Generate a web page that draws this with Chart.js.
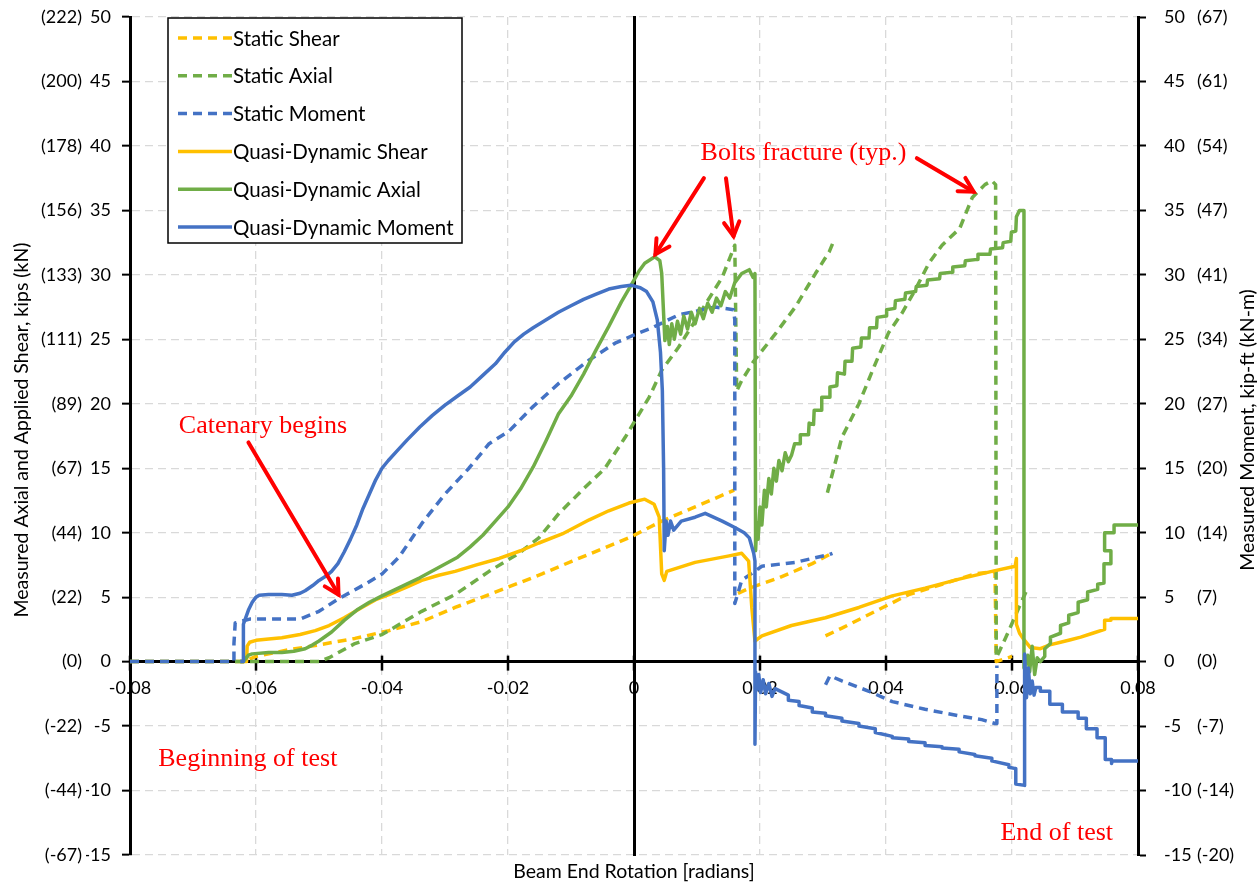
<!DOCTYPE html>
<html><head><meta charset="utf-8">
<script src="https://cdn.jsdelivr.net/npm/chart.js@4.4.1/dist/chart.umd.min.js"></script>
<style>html,body{margin:0;padding:0;background:#fff;}#wrap{width:1260px;height:883px;position:relative;}</style>
</head><body><div id="wrap"><canvas id="c" width="1260" height="883"></canvas></div>
<script>
// ---------- tick labels ----------
const xTickValues = [-0.08,-0.06,-0.04,-0.02,0,0.02,0.04,0.06,0.08];
const xTickLabels = ['-0.08','-0.06','-0.04','-0.02','0','0.02','0.04','0.06','0.08'];
const yTickValues = [-15,-10,-5,0,5,10,15,20,25,30,35,40,45,50];
const yKipLabels  = ['-15','-10','-5','0','5','10','15','20','25','30','35','40','45','50'];
const yKNLabels   = ['(-67)','(-44)','(-22)','(0)','(22)','(44)','(67)','(89)','(111)','(133)','(156)','(178)','(200)','(222)'];
const y2KipFtLabels = ['-15','-10','-5','0','5','10','15','20','25','30','35','40','45','50'];
const y2KNmLabels   = ['(-20)','(-14)','(-7)','(0)','(7)','(14)','(20)','(27)','(34)','(41)','(47)','(54)','(61)','(67)'];

// ---------- series ([rotation, value]; null = break) ----------
const staticShear = [[-0.08,0],[-0.062,0],[-0.060,0.4],[-0.055,0.9],[-0.050,1.3],[-0.0443,1.8],[-0.0389,2.4],[-0.0337,3.1],[-0.0284,4.2],[-0.023,5.2],[-0.0146,6.8],[-0.0098,7.8],[-0.0008,9.6],[0.0044,10.9],[0.0097,12.0],[0.0159,13.3],null,
  [0.0165,5.3],[0.0183,5.7],[0.023,6.5],[0.0283,7.6],[0.0314,8.4],null,
  [0.0304,2.0],[0.033,2.6],[0.0383,3.9],[0.0436,5.2],[0.0489,6.0],[0.0541,6.8],[0.0573,7.0],[0.0575,0],[0.0600,0.4]];

const staticAxial = [[-0.08,0],[-0.05,0],[-0.0484,0.3],[-0.0443,1.4],[-0.040,2.1],[-0.0337,3.9],[-0.0284,5.2],[-0.023,7.0],[-0.0183,8.4],[-0.0151,9.6],[-0.0119,11.5],[-0.0078,13.5],[-0.0046,15.0],[-0.0014,17.4],[0.0008,19.2],[0.0024,20.5],[0.0044,22.6],[0.0071,24.4],[0.0108,27.3],[0.014,29.8],[0.016,32.3],[0.0163,21.0],
  [0.0171,21.8],[0.019,23.3],[0.0203,24.1],[0.0224,25.4],[0.0256,27.5],[0.0288,30.1],[0.031,31.8],[0.0316,32.5],null,
  [0.0307,13.1],[0.033,17.4],[0.0357,20.0],[0.0383,23.1],[0.0404,25.5],[0.0425,27.0],[0.0446,28.8],[0.0468,30.9],[0.0489,32.3],[0.0517,33.6],[0.0537,36.0],[0.0557,37.0],[0.0568,37.3],[0.0574,37.0],[0.0575,0.3],[0.058,0.8],[0.0595,2.4],[0.0611,4.2],[0.0624,5.6]];

const staticMoment = [[-0.08,0],[-0.0635,0],[-0.0635,1.4],[-0.0633,3.0],[-0.061,3.3],[-0.057,3.3],[-0.053,3.3],[-0.050,3.9],[-0.0468,4.9],[-0.0427,6.0],[-0.040,6.8],[-0.0373,8.1],[-0.0337,10.7],[-0.030,13.0],[-0.0262,15.0],[-0.023,16.9],[-0.0198,17.9],[-0.0162,19.7],[-0.0119,21.6],[-0.0071,23.4],[-0.003,24.7],[0.0008,25.5],[0.0029,25.9],[0.0071,26.9],[0.0129,27.5],[0.0158,27.3],[0.016,26.5],[0.016,4.5],
  [0.0171,6.3],[0.0203,7.4],[0.0256,7.7],[0.031,8.3],[0.0315,8.4],null,
  [0.0304,-1.8],[0.0311,-1.1],[0.033,-1.5],[0.0373,-2.3],[0.041,-3.1],[0.0462,-3.7],[0.0516,-4.2],[0.0552,-4.5],[0.0573,-4.8],[0.0576,-4.8],[0.0576,-0.3]];

const qdShear = [[-0.0625,0],[-0.0615,0],[-0.0614,1.2],[-0.0610,1.5],[-0.0600,1.65],[-0.0580,1.75],[-0.0559,1.85],[-0.0530,2.1],[-0.0506,2.4],[-0.0484,2.8],[-0.0460,3.4],[-0.0432,4.2],[-0.0410,4.8],[-0.0389,5.2],[-0.0360,5.8],[-0.0337,6.3],[-0.0310,6.7],[-0.0284,7.0],[-0.0250,7.5],[-0.0214,8.0],[-0.0180,8.6],[-0.0151,9.2],[-0.0114,9.9],[-0.0071,11.0],[-0.0040,11.7],[-0.0008,12.3],[0.0017,12.6],[0.0032,12.2],[0.004,11.2],[0.0044,6.8],[0.0048,6.3],[0.0052,7.0],[0.0097,7.7],[0.0151,8.2],[0.0171,8.4],[0.0182,7.8],[0.0187,4.2],[0.0192,1.6],
  [0.0203,2.0],[0.025,2.8],[0.0304,3.4],[0.0357,4.2],[0.041,5.1],[0.0462,5.7],[0.0516,6.4],[0.0568,7.0],[0.0605,7.4],[0.0607,8.0],[0.0607,2.9],[0.0612,2.2],[0.0619,1.7],[0.0629,1.1],[0.0645,1.0],[0.0660,1.3],[0.0677,1.5],[0.0693,1.7],[0.0709,1.9],[0.0728,2.2],[0.0747,2.5],[0.0747,3.2],[0.0757,3.2],[0.0757,3.35],[0.08,3.35]];

const qdAxial = [[-0.0625,0],[-0.062,0],[-0.0612,0.5],[-0.0606,0.6],[-0.058,0.7],[-0.0559,0.7],[-0.054,0.8],[-0.0522,1.0],[-0.051,1.3],[-0.050,1.6],[-0.048,2.3],[-0.046,3.2],[-0.044,4.0],[-0.042,4.6],[-0.040,5.1],[-0.037,5.8],[-0.034,6.5],[-0.031,7.3],[-0.028,8.1],[-0.026,8.9],[-0.024,9.8],[-0.022,10.9],[-0.020,12.0],[-0.018,13.4],[-0.016,15.1],[-0.014,17.1],[-0.012,19.2],[-0.010,20.6],[-0.008,22.3],[-0.006,24.2],[-0.004,26.0],[-0.002,27.9],[0.0,29.6],[0.0008,30.3],[0.0017,30.9],[0.0033,31.4],[0.0041,31.1],[0.0044,30.1],[0.0049,24.9],
  [0.0053,26.0],[0.0056,24.6],[0.006,26.2],[0.0064,25.0],[0.0069,26.4],[0.0074,25.4],[0.0079,26.8],[0.0085,25.8],[0.0091,27.1],[0.0097,26.2],[0.0104,27.4],[0.011,26.6],[0.0117,27.8],[0.0124,27.1],[0.0131,28.2],[0.0138,27.6],[0.0145,28.7],[0.0152,28.2],[0.016,29.4],[0.0171,30.1],[0.0183,30.4],[0.0189,29.8],[0.0192,30.1],[0.0193,8.6],
  [0.0195,10.8],[0.0197,9.5],[0.020,12.0],[0.0203,10.6],[0.0207,13.3],[0.021,12.0],[0.0214,14.2],[0.0218,13.0],[0.0222,15.0],[0.0226,14.0],[0.023,15.6],[0.0235,14.8],[0.024,16.2],[0.0245,15.5],[0.0250,16.0],
  [0.0255,16.9],[0.0264,16.9],[0.0264,17.6],[0.0277,17.6],[0.0278,18.5],[0.0285,18.4],[0.0286,19.5],[0.0297,19.5],[0.0298,20.5],[0.0310,20.5],[0.0311,21.3],[0.0322,21.4],[0.0323,22.4],[0.0334,22.3],[0.0335,23.3],[0.0346,23.3],[0.0347,24.3],[0.0360,24.4],[0.0361,25.1],[0.0373,25.1],[0.0374,25.9],[0.0385,25.9],[0.0386,26.7],[0.0400,26.8],[0.0401,27.3],[0.0414,27.4],[0.0415,28.0],[0.0430,28.1],[0.0431,28.6],[0.0447,28.7],[0.0448,29.1],[0.0465,29.2],[0.0466,29.6],[0.0485,29.7],[0.0486,30.1],[0.0505,30.2],[0.0506,30.6],[0.0525,30.7],[0.0526,31.1],[0.0545,31.2],[0.0546,31.6],[0.0565,31.6],[0.0566,32.0],[0.0585,32.1],[0.0586,32.5],[0.0598,32.6],[0.0599,33.3],[0.0606,33.4],[0.0607,34.5],[0.0612,35.0],[0.0619,35.0],
  [0.0619,-0.5],[0.0625,0.5],[0.0628,-0.8],[0.0632,1.2],[0.0636,-1.0],[0.064,0.3],[0.0645,0.0],[0.0652,0.4],[0.0652,1.0],[0.0661,1.4],[0.0661,1.9],[0.0677,2.2],[0.0677,2.8],[0.0690,3.0],[0.0690,3.6],[0.0705,3.8],[0.0705,4.6],[0.0720,4.8],[0.0720,5.4],[0.0736,5.6],[0.0736,6.0],[0.0746,6.1],[0.0746,7.6],[0.0757,7.6],[0.0757,8.6],[0.0747,8.6],[0.0747,10.0],[0.0762,10.0],[0.0762,10.6],[0.080,10.6]];

const qdMoment = [[-0.0625,0],[-0.062,0],[-0.062,2.9],[-0.0612,4.0],[-0.0606,4.6],[-0.060,5.0],[-0.0595,5.15],[-0.058,5.2],[-0.0559,5.2],[-0.0543,5.15],[-0.053,5.3],[-0.0522,5.5],[-0.051,5.9],[-0.050,6.3],[-0.049,6.6],[-0.048,7.0],[-0.047,7.6],[-0.046,8.5],[-0.045,9.5],[-0.044,10.6],[-0.043,11.9],[-0.042,13.0],[-0.041,14.1],[-0.040,15.0],[-0.039,15.6],[-0.0375,16.4],[-0.036,17.2],[-0.034,18.2],[-0.032,19.1],[-0.030,19.9],[-0.028,20.6],[-0.026,21.3],[-0.024,22.2],[-0.022,23.1],[-0.0205,24.0],[-0.019,24.8],[-0.0175,25.4],[-0.016,25.9],[-0.014,26.5],[-0.012,27.1],[-0.010,27.6],[-0.008,28.1],[-0.006,28.5],[-0.004,28.9],[-0.002,29.1],[-0.0005,29.2],[0.001,29.0],[0.002,28.7],[0.003,27.9],[0.0037,26.5],[0.0042,24.0],[0.0045,21.0],[0.0047,15.0],[0.0048,8.6],
  [0.0051,10.9],[0.0054,9.8],[0.0058,10.9],[0.0063,10.2],[0.0075,10.9],[0.0097,11.2],[0.0113,11.5],[0.014,10.9],[0.016,10.4],[0.0175,10.0],[0.0183,9.6],[0.019,8.4],[0.0192,7.8],[0.0192,-6.4],
  [0.0193,-0.8],[0.0195,-2.2],[0.0198,-1.0],[0.0201,-2.4],[0.0205,-1.4],[0.0209,-2.5],[0.0214,-1.7],[0.0219,-2.7],[0.0224,-2.1],[0.0245,-2.6],[0.0245,-3.0],[0.0262,-3.1],[0.0262,-3.4],[0.0283,-3.6],[0.0283,-3.9],[0.0304,-4.0],[0.0304,-4.2],[0.033,-4.4],[0.033,-4.6],[0.0357,-4.8],[0.0357,-5.0],[0.0383,-5.2],[0.0383,-5.5],[0.041,-5.8],[0.041,-5.9],[0.0436,-6.0],[0.0436,-6.2],[0.0462,-6.3],[0.0462,-6.5],[0.0489,-6.6],[0.0489,-6.7],[0.0516,-6.8],[0.0516,-7.0],[0.0541,-7.2],[0.0541,-7.3],[0.0568,-7.5],[0.0568,-7.7],[0.0595,-8.0],[0.0595,-8.2],[0.0606,-8.3],[0.0606,-9.5],[0.062,-9.6],
  [0.062,0.6],[0.0623,-2.8],[0.0626,-0.5],[0.0629,-2.5],[0.0632,-1.5],[0.0635,-2.6],[0.0638,-2.0],[0.0645,-2.0],[0.0645,-2.3],[0.066,-2.3],[0.066,-3.3],[0.068,-3.3],[0.068,-3.9],[0.0705,-3.9],[0.0705,-4.4],[0.0718,-4.4],[0.0718,-5.2],[0.0735,-5.2],[0.0735,-5.9],[0.0748,-5.9],[0.0748,-7.6],[0.0758,-7.6],[0.0758,-7.9],[0.0759,-7.7],[0.08,-7.7]];

const seriesLabels = ['Static Shear','Static Axial','Static Moment','Quasi-Dynamic Shear','Quasi-Dynamic Axial','Quasi-Dynamic Moment'];

// ---------- styles ----------
const GOLD='#FFC000', GREEN='#70AD47', BLUE='#4472C4';
const DASH=[9,6];
const TICK_FONT={family:'Lato', size:18};
const GRID='#D9D9D9';

function toXY(arr){ let px=null; return arr.map(p=>{ if(!p) return {x:px,y:null}; px=p[0]; return {x:p[0],y:p[1]}; }); }
function ds(label,arr,color,dash,axis,order){
  return {label, data:toXY(arr), borderColor:color, backgroundColor:color, borderWidth:3.5, borderDash:dash, pointRadius:0, pointHoverRadius:0, fill:false, tension:0, spanGaps:false, yAxisID:axis, order, borderCapStyle:'butt', borderJoinStyle:'round'};
}
const datasets=[
  ds(seriesLabels[0],staticShear,GOLD,DASH,'y',6),
  ds(seriesLabels[1],staticAxial,GREEN,DASH,'y',5),
  ds(seriesLabels[2],staticMoment,BLUE,DASH,'y2',4),
  ds(seriesLabels[3],qdShear,GOLD,[],'y',3),
  ds(seriesLabels[4],qdAxial,GREEN,[],'y',2),
  ds(seriesLabels[5],qdMoment,BLUE,[],'y2',1)
];

const lab=(vals,labels)=>v=>{const i=vals.indexOf(Math.round(v));return i<0?'':labels[i];};
const setYTicks = s => { s.ticks = yTickValues.map(v=>({value:v})); };
const fixW = w => s => { s.width = w; s.paddingTop = 0; s.paddingBottom = 0; };

const annotations = {
  texts:[
    {text:'Catenary begins', x:-0.0589, y:18.3},
    {text:'Bolts fracture (typ.)', x:0.0269, y:39.45},
    {text:'Beginning of test', x:-0.0613, y:-7.6},
    {text:'End of test', x:0.0671, y:-13.3}
  ],
  arrows:[
    {from:[-0.0612,17.0], to:[-0.0469,5.2]},
    {from:[0.0111,37.5], to:[0.0034,31.6]},
    {from:[0.0146,37.5], to:[0.0158,33.0]},
    {from:[0.0449,39.05], to:[0.0539,36.45]}
  ]
};

const decor = {
  id:'decor',
  beforeDatasetsDraw(chart){
    const {ctx} = chart; const xs=chart.scales.x, ys=chart.scales.y;
    const y0 = ys.getPixelForValue(0);
    ctx.save(); ctx.strokeStyle='#000'; ctx.lineWidth=2.5;
    xTickValues.forEach(v=>{ const px=xs.getPixelForValue(v); ctx.beginPath(); ctx.moveTo(px,y0-6); ctx.lineTo(px,y0+9); ctx.stroke(); });
    ctx.restore();
  },
  afterDraw(chart){
    const {ctx, chartArea:ca} = chart; const xs=chart.scales.x, ys=chart.scales.y;
    ctx.save();
    // axis titles
    ctx.fillStyle='#000'; ctx.font='19.5px Lato'; ctx.textAlign='center'; ctx.textBaseline='middle';
    ctx.fillText('Beam End Rotation [radians]', (ca.left+ca.right)/2, ca.bottom+17);
    ctx.save(); ctx.translate(22,(ca.top+ca.bottom)/2-6); ctx.rotate(-Math.PI/2); ctx.fillText('Measured Axial and Applied Shear, kips (kN)',0,0); ctx.restore();
    ctx.save(); ctx.translate(1248,(ca.top+ca.bottom)/2-6); ctx.rotate(-Math.PI/2); ctx.fillText('Measured Moment, kip-ft (kN-m)',0,0); ctx.restore();
    // legend
    const L=ca.left+38, T=ca.top+1, W=294, H=225;
    ctx.fillStyle='#fff'; ctx.fillRect(L,T,W,H);
    ctx.strokeStyle='#000'; ctx.lineWidth=1.5; ctx.strokeRect(L,T,W,H);
    ctx.font='20.5px Lato'; ctx.textAlign='left'; ctx.textBaseline='middle';
    chart.data.datasets.forEach((d,i)=>{
      const cy=T+20+i*37.8;
      ctx.strokeStyle=d.borderColor; ctx.lineWidth=3.5; ctx.setLineDash(d.borderDash||[]);
      ctx.beginPath(); ctx.moveTo(L+10,cy); ctx.lineTo(L+64,cy); ctx.stroke(); ctx.setLineDash([]);
      ctx.fillStyle='#000'; ctx.fillText(d.label,L+65,cy+1);
    });
    // annotations
    ctx.fillStyle='#FF0000'; ctx.strokeStyle='#FF0000';
    ctx.font='26px "Liberation Serif"'; ctx.textAlign='center'; ctx.textBaseline='middle';
    annotations.texts.forEach(t=>ctx.fillText(t.text, xs.getPixelForValue(t.x), ys.getPixelForValue(t.y)));
    ctx.lineWidth=4; ctx.lineCap='round';
    annotations.arrows.forEach(a=>{
      const x1=xs.getPixelForValue(a.from[0]), y1=ys.getPixelForValue(a.from[1]);
      const x2=xs.getPixelForValue(a.to[0]), y2=ys.getPixelForValue(a.to[1]);
      const ang=Math.atan2(y2-y1,x2-x1), hl=16, ha=0.5;
      ctx.beginPath(); ctx.moveTo(x1,y1); ctx.lineTo(x2,y2); ctx.stroke();
      ctx.beginPath();
      ctx.moveTo(x2-hl*Math.cos(ang-ha), y2-hl*Math.sin(ang-ha)); ctx.lineTo(x2,y2);
      ctx.lineTo(x2-hl*Math.cos(ang+ha), y2-hl*Math.sin(ang+ha)); ctx.stroke();
    });
    ctx.restore();
  }
};

new Chart(document.getElementById('c'), {
  type:'line',
  data:{datasets},
  options:{
    responsive:false, animation:false, devicePixelRatio:1,
    layout:{padding:{top:17,bottom:28,left:0,right:0}},
    plugins:{legend:{display:false}, tooltip:{enabled:false}},
    events:[],
    scales:{
      x:{type:'linear', min:-0.08, max:0.08, position:{y:0},
        afterBuildTicks:s=>{ s.ticks = xTickValues.map(v=>({value:v})); },
        ticks:{autoSkip:false, maxRotation:0, font:TICK_FONT, color:'#000', padding:16, callback:(v,i)=>xTickLabels[i]},
        grid:{color:GRID, lineWidth:1.3, drawTicks:false},
        border:{color:'#000', width:3, dash:[8,5]}
      },
      xZero:{type:'linear', axis:'y', min:-15, max:50, position:{x:0}, afterFit:s=>{s.paddingTop=0;s.paddingBottom=0;}, ticks:{display:false}, grid:{display:false, drawTicks:false}, border:{color:'#000', width:3}},
      y:{type:'linear', position:'left', min:-15, max:50, weight:0, afterBuildTicks:setYTicks, afterFit:fixW(44),
        ticks:{autoSkip:false, font:TICK_FONT, color:'#000', padding:11, callback:lab(yTickValues,yKipLabels)},
        grid:{color:GRID, lineWidth:1.3, tickLength:8, tickColor:'#000', tickWidth:2},
        border:{color:'#000', width:3, dash:[8,5]}
      },
      yKN:{type:'linear', axis:'y', position:'left', min:-15, max:50, weight:1, afterBuildTicks:setYTicks, afterFit:fixW(86),
        ticks:{autoSkip:false, font:TICK_FONT, color:'#000', padding:4, callback:lab(yTickValues,yKNLabels)},
        grid:{display:false, drawTicks:false}, border:{display:false}
      },
      y2:{type:'linear', position:'right', min:-15, max:50, weight:0, afterBuildTicks:setYTicks, afterFit:fixW(56),
        ticks:{autoSkip:false, font:TICK_FONT, color:'#000', padding:18, callback:lab(yTickValues,y2KipFtLabels)},
        grid:{drawOnChartArea:false, tickLength:8, tickColor:'#000', tickWidth:2, color:GRID},
        border:{color:'#000', width:3}
      },
      y2KN:{type:'linear', axis:'y', position:'right', min:-15, max:50, weight:1, afterBuildTicks:setYTicks, afterFit:fixW(66),
        ticks:{autoSkip:false, font:TICK_FONT, color:'#000', padding:3, callback:lab(yTickValues,y2KNmLabels)},
        grid:{display:false, drawTicks:false}, border:{display:false}
      }
    }
  },
  plugins:[decor]
});
</script></body></html>
